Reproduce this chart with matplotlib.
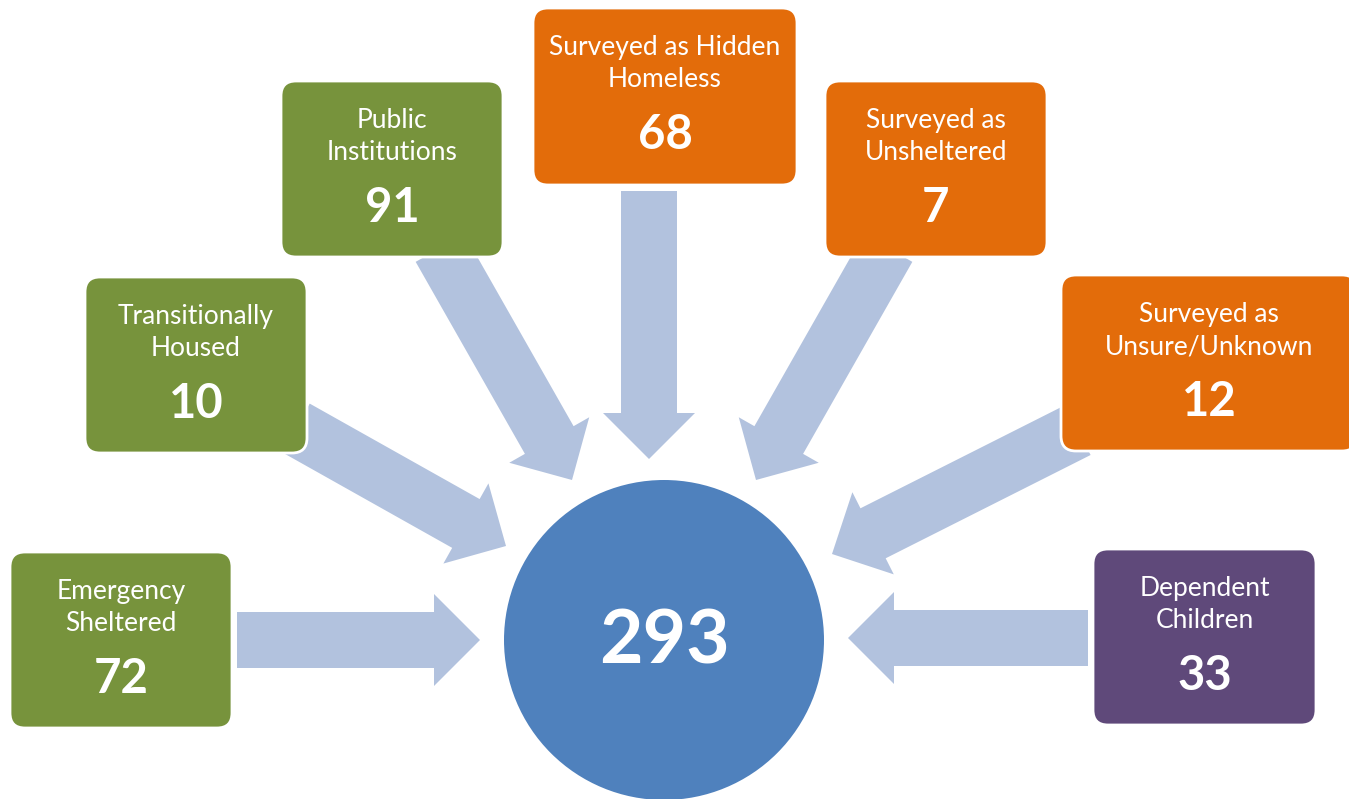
#!/usr/bin/env python
# -*- coding: utf-8 -*-

import matplotlib
matplotlib.use('Agg')

from matplotlib import pyplot as plt
from matplotlib.patches import FancyBboxPatch, FancyArrow, Circle

# data
labels = [
    ["Emergency", "Sheltered"],
    ["Transitionally", "Housed"],
    ["Public", "Institutions"],
    ["Surveyed as Hidden", "Homeless"],
    ["Surveyed as", "Unsheltered"],
    ["Surveyed as", "Unsure/Unknown"],
    ["Dependent", "Children"],
]
values = [72, 10, 91, 68, 7, 12, 33]
groups = ["green", "green", "green", "orange", "orange", "orange", "purple"]
total = sum(values)

# layout in pixel units (x0, y0, w, h), y goes down
boxes = [
    (10, 552, 222, 176),
    (85, 277, 222, 176),
    (281, 81, 222, 176),
    (533, 8, 264, 177),
    (825, 81, 222, 176),
    (1061, 275, 296, 176),
    (1093, 549, 223, 176),
]
# arrow tail -> tip
arrows = [
    ((237, 640), (480, 640)),
    ((296, 428), (506, 546)),
    ((440, 248), (572, 480)),
    ((649, 191), (649, 459)),
    ((888, 248), (756, 480)),
    ((1078, 430), (832, 554)),
    ((1088, 638), (848, 638)),
]
colors = {"green": "#77933C", "orange": "#E36C0A", "purple": "#5F497A"}
arrow_color = "#B2C2DE"
circle_color = "#4F81BD"
font = "Lato"

fig = plt.figure(figsize=(13.49, 7.99), dpi=100)
ax = fig.add_axes([0, 0, 1, 1])
ax.set_xlim(0, 1349)
ax.set_ylim(799, 0)
ax.axis('off')

for (x0, y0), (x1, y1) in arrows:
    ax.add_patch(FancyArrow(x0, y0, x1 - x0, y1 - y0, width=56, head_width=92,
                            head_length=46, length_includes_head=True,
                            color=arrow_color, lw=0, zorder=1))

ax.add_patch(Circle((664, 640), 160, color=circle_color, lw=0, zorder=2))
ax.text(664, 664, str(total), ha='center', va='baseline', color='white',
        fontsize=54, fontweight='bold', family=font, zorder=5)

for lab, val, grp, (x, y, w, h) in zip(labels, values, groups, boxes):
    ax.add_patch(FancyBboxPatch((x, y), w, h, boxstyle="round,pad=0,rounding_size=15",
                                fc=colors[grp], ec='white', lw=2, zorder=3))
    cx = x + w / 2.0
    ax.text(cx, y + 47, lab[0], ha='center', va='baseline', color='white',
            fontsize=19, family=font, zorder=4)
    ax.text(cx, y + 79, lab[1], ha='center', va='baseline', color='white',
            fontsize=19, family=font, zorder=4)
    ax.text(cx, y + 141, str(val), ha='center', va='baseline', color='white',
            fontsize=34, fontweight='bold', family=font, zorder=4)

plt.savefig('out.png', dpi=100)
